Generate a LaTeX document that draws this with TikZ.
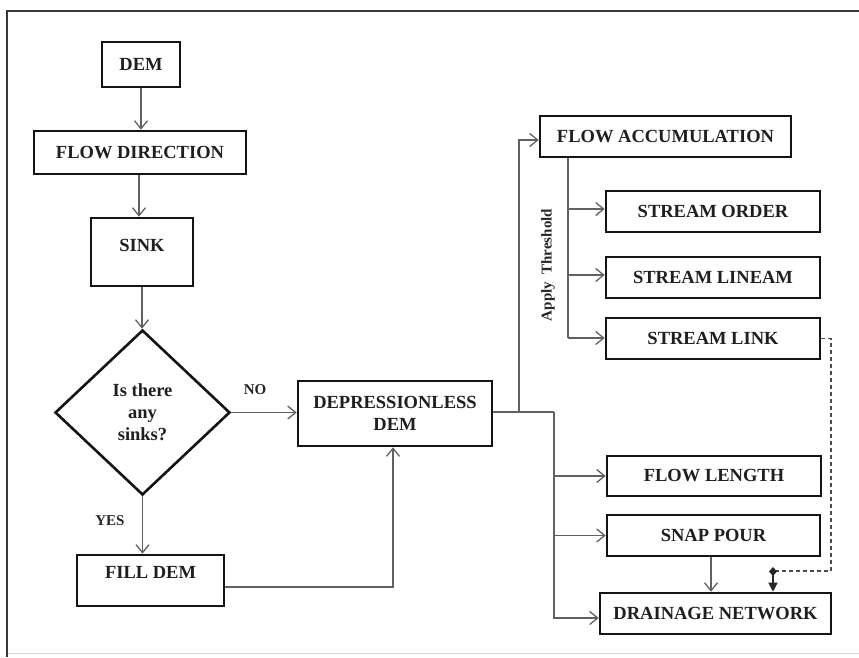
\documentclass[tikz,border=0pt]{standalone}
\usepackage{fontspec}
\setmainfont{Liberation Serif}
\usetikzlibrary{arrows.meta,shapes.geometric}

\begin{document}
\begin{tikzpicture}[x=1pt,y=-1pt,
  txt/.style={font=\fontsize{18.5}{22}\selectfont\bfseries, text=black!88},
  procbox/.style 2 args={txt, draw=black!92, line width=2.6pt, rectangle,
    minimum width=#1, minimum height=#2, inner sep=0pt, align=center},
  decision/.style={txt, draw=black!92, line width=2.6pt, diamond,
    minimum width=175pt, minimum height=165pt, inner sep=0pt, align=center},
  link/.style={draw=black!62, line width=1.3pt,
    -{Straight Barb[length=8pt,width=13pt,line width=1.3pt]}},
  plainlink/.style={draw=black!62, line width=1.3pt},
  tag/.style={font=\fontsize{15}{18}\selectfont\bfseries, text=black!85, inner sep=0pt}]

  % page area and frame
  \useasboundingbox (0,0) rectangle (859,657);
  \fill[white] (0,0) rectangle (859,657);
  \draw[black!15, line width=1pt] (7,653) -- (859,653);
  \draw[black!78, line width=2pt] (7,657) -- (7,11) -- (859,11);

  % left column
  \node[procbox={78pt}{45pt}]  (dem)  at (141,64.5)  {DEM};
  \node[procbox={212pt}{43pt}] (fdir) at (140,152.5) {FLOW DIRECTION};
  \node[procbox={102pt}{68pt}, text height=12pt, text depth=14pt] (sink) at (142,252) {SINK};
  \node[decision] (ask) at (142.5,412.5) {Is there\\any\\sinks?};
  \node[procbox={147pt}{51pt}, text height=12pt, text depth=17pt] (fill) at (150.5,580.5) {FILL DEM};

  % middle
  \node[procbox={194pt}{65pt}] (dep) at (395,413.5) {DEPRESSIONLESS\\DEM};

  % right column
  \node[procbox={251pt}{41pt}] (facc) at (665.5,136.5) {FLOW ACCUMULATION};
  \node[procbox={214pt}{41pt}] (sord) at (713,211.5) {STREAM ORDER};
  \node[procbox={214pt}{41pt}] (slin) at (713,277.5) {STREAM LINEAM};
  \node[procbox={214pt}{41pt}] (slnk) at (713,338.5) {STREAM LINK};
  \node[procbox={214pt}{40pt}] (flen) at (714,476)   {FLOW LENGTH};
  \node[procbox={213pt}{41pt}] (snap) at (713.5,535.5) {SNAP POUR};
  \node[procbox={231pt}{41pt}] (drain) at (715.5,613.5) {DRAINAGE NETWORK};

  % junction points
  \coordinate (jup) at (519,412);
  \coordinate (jdown) at (554,412);
  \coordinate (trunk) at (568,338);
  \coordinate (bend) at (831,571);
  \coordinate (tap) at (773,571);

  % main chain
  \draw[link] (dem.south) -- (dem.south |- fdir.north);
  \draw[link] ([xshift=-1pt]fdir.south) -- ([xshift=-1pt]fdir.south |- sink.north);
  \draw[link] (sink.south) -- (sink.south |- ask.north);
  \draw[link] (ask.south) -- (ask.south |- fill.north);
  \draw[link] (ask.east) -- (ask.east -| dep.west);
  \draw[link] ([yshift=-6.5pt]fill.east) -| ([xshift=-2pt]dep.south);

  \node[tag] (yes) at (110,521) {YES};
  \node[tag] (no)  at (255,390) {NO};

  % outputs of the depressionless DEM
  \draw[plainlink] ([yshift=1.5pt]dep.east) -- (jdown);
  \draw[link] (jup) |- ([yshift=-3.5pt]facc.west);
  \draw[link] (jdown) |- ([yshift=-4.5pt]drain.west);
  \draw[link] (jdown |- flen.west) -- (flen.west);
  \draw[link] (jdown |- snap.west) -- (snap.west);

  % stream products from flow accumulation
  \draw[plainlink] (facc.south -| trunk) -- (trunk);
  \draw[link] (trunk |- sord.west) ++(0,-2.5) -- ([yshift=2.5pt]sord.west);
  \draw[link] (trunk |- slin.west) ++(0,-2.5) -- ([yshift=2.5pt]slin.west);
  \draw[link] (trunk) -- (trunk -| slnk.west);
  \node[tag, rotate=90] (thr) at (548,265) {Apply\ \ Threshold};

  % into the drainage network
  \draw[link] ([xshift=-2.5pt]snap.south) -- ([xshift=-2.5pt]snap.south |- drain.north);
  \draw[black!70, line width=1.2pt, dashed, dash pattern=on 4pt off 3pt]
    (slnk.east) -- (slnk.east -| bend) -- (bend) -- (tap);
  \draw[black!85, line width=1.3pt, {Diamond[length=9pt,width=8pt]}-{Triangle[length=9pt,width=9pt]}]
    ([yshift=4pt]tap) -- (tap |- drain.north);
\end{tikzpicture}
\end{document}
